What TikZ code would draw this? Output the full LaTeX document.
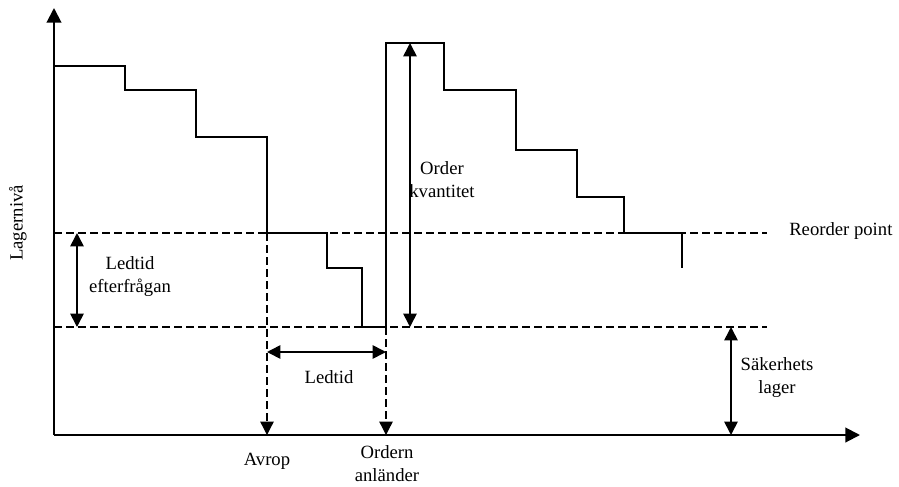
\documentclass[tikz,border=0pt]{standalone}
\usepackage{fontspec}
\setmainfont{Liberation Serif}
\usetikzlibrary{arrows.meta}
\begin{document}
\begin{tikzpicture}[x=0.75pt,y=-0.75pt,
  axis/.style={line width=1.5pt,-{Triangle[width=11pt,length=11pt]}},
  stock/.style={line width=1pt},
  level/.style={line width=1pt,dash pattern=on 6pt off 3pt},
  guide/.style={level,-{Triangle[width=10pt,length=10pt]}},
  span/.style={line width=1.2pt,{Triangle[width=10pt,length=10pt]}-{Triangle[width=10pt,length=10pt]}},
  lbl/.style={font=\fontsize{14}{17.25}\selectfont,align=center,inner sep=0pt}]
\useasboundingbox (0,0) rectangle (899,486);

% axes
\coordinate (O) at (54,435);
\coordinate (ytip) at (54,8);
\coordinate (xtip) at (860,435);
\draw[axis] (O) -- (ytip);
\draw[axis] (O) -- (xtip);

% reorder point and safety stock levels
\coordinate (ropL) at (54,233);
\coordinate (ropR) at (767,233);
\coordinate (ssL) at (54,327);
\coordinate (ssR) at (767,327);
\draw[level] (ropL) -- (ropR);
\draw[level] (ssL) -- (ssR);

% stock level over time
\draw[stock] (54,66) -| (125,90) -| (196,137) -| (267,233) -| (327,268) -| (362,327)
  -| (386,43) -| (444,90) -| (516,150) -| (577,197) -| (624,233) -| (682,268);

% call-off and arrival guides
\coordinate (callTop) at (267,233);
\coordinate (callBot) at (267,435);
\coordinate (arrTop) at (386,327);
\coordinate (arrBot) at (386,435);
\draw[guide] (callTop) -- (callBot);
\draw[guide] (arrTop) -- (arrBot);

% dimension arrows
\coordinate (ldA) at (77,233);
\coordinate (ldB) at (77,327);
\draw[span] (ldA) -- (ldB);
\coordinate (ltA) at (267,352);
\coordinate (ltB) at (386,352);
\draw[span] (ltA) -- (ltB);
\coordinate (oqA) at (410,43);
\coordinate (oqB) at (410,327);
\draw[span] (oqA) -- (oqB);
\coordinate (skA) at (731,327);
\coordinate (skB) at (731,435);
\draw[span] (skA) -- (skB);

% labels
\node[lbl,rotate=90] (ylab) at (18,223) {Lagernivå};
\node[lbl] (ledef) at (130,277) {Ledtid\\efterfrågan};
\node[lbl] (ledtid) at (329,377) {Ledtid};
\node[lbl] (ordq) at (442,180) {Order\\kvantitet};
\node[lbl,anchor=west] (rop) at (789,231) {Reorder point};
\node[lbl] (sak) at (777,378) {Säkerhets\\lager};
\node[lbl] (avrop) at (267,461) {Avrop};
\node[lbl] (arr) at (387,464) {Ordern\\anländer};
\end{tikzpicture}
\end{document}
